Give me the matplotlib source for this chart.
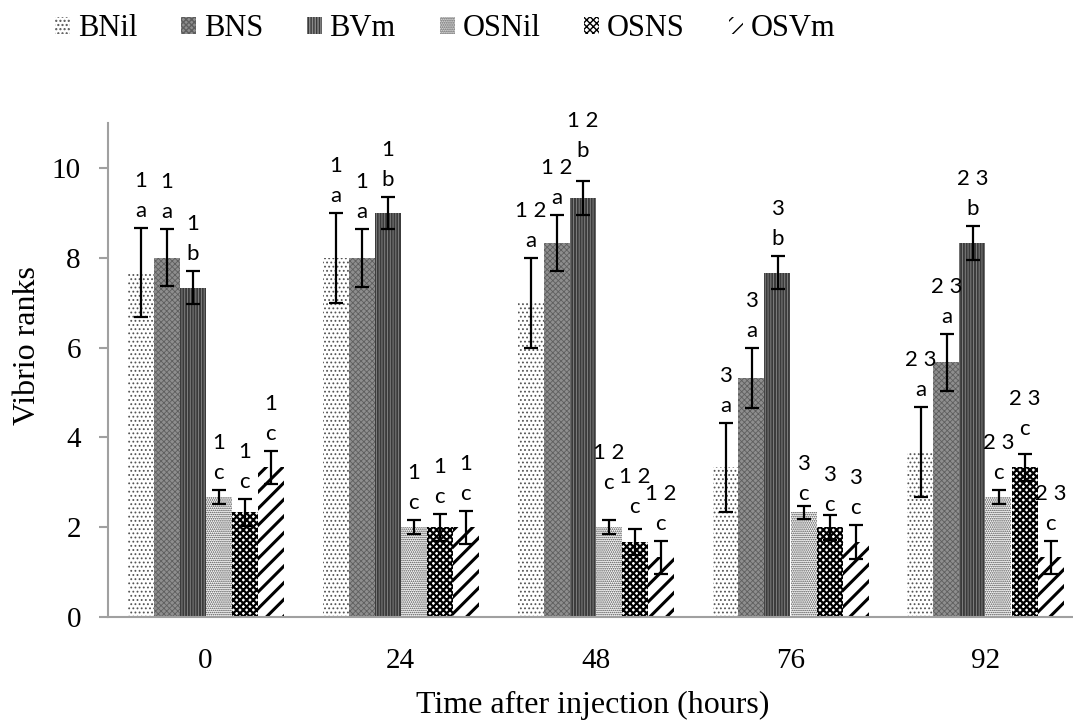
import numpy as np
import matplotlib
matplotlib.use("Agg")
import matplotlib.pyplot as plt

# data
hours = ["0", "24", "48", "76", "92"]
series = ["BNil", "BNS", "BVm", "OSNil", "OSNS", "OSVm"]

bnil = [7.67, 8.0, 7.0, 3.33, 3.67]
bns = [8.0, 8.0, 8.33, 5.33, 5.67]
bvm = [7.33, 9.0, 9.33, 7.67, 8.33]
osnil = [2.67, 2.0, 2.0, 2.33, 2.67]
osns = [2.33, 2.0, 1.67, 2.0, 3.33]
osvm = [3.33, 2.0, 1.33, 1.67, 1.33]

bnil_err = [1.0, 1.0, 1.0, 1.0, 1.0]
bns_err = [0.63, 0.65, 0.63, 0.67, 0.63]
bvm_err = [0.37, 0.35, 0.37, 0.37, 0.37]
osnil_err = [0.15, 0.15, 0.15, 0.15, 0.15]
osns_err = [0.3, 0.3, 0.3, 0.28, 0.3]
osvm_err = [0.37, 0.37, 0.37, 0.37, 0.37]

# significance labels: number group (time) and letter (treatment)
time_grp = ["1", "1", "1 2", "3", "2 3"]
letters = ["a", "a", "b", "c", "c", "c"]

values = [bnil, bns, bvm, osnil, osns, osvm]
errors = [bnil_err, bns_err, bvm_err, osnil_err, osns_err, osvm_err]

# look of each series: facecolor, hatch colour, hatch, hatch linewidth
styles = [
    ("white", "#555555", "....", 0.8),
    ("#8e8e8e", "#5e5e5e", "xxxxxx", 0.6),
    ("#3a3a3a", "#8a8a8a", "||||||", 0.6),
    ("white", "#444444", "........", 0.8),
    ("white", "black", "xxxxx", 1.6),
    ("white", "black", "//", 2.2),
]

# extra lift (px) for a few hand-placed labels [group][series]
lift = np.zeros((5, 6))
lift[2, 2] = 13
lift[2, 3] = 20
lift[2, 4] = 5
lift[3, 3] = -5
lift[3, 4] = -7
lift[4, 4] = 8

fig = plt.figure(figsize=(10.73, 7.24), dpi=100)
ax = fig.add_axes([108/1073, 107/724, 975/1073, 494/724])

x = np.arange(len(hours))
w = 0.8/6
for j, name in enumerate(series):
    fc, hc, hatch, hlw = styles[j]
    pos = x + (j - 2.5)*w
    with plt.rc_context({"hatch.linewidth": hlw}):
        ax.bar(pos, values[j], w, facecolor=fc, edgecolor=hc, linewidth=0,
               hatch=hatch, label=name, zorder=2)
    ax.errorbar(pos, values[j], yerr=errors[j], fmt="none", ecolor="black",
                elinewidth=1.6, capsize=4.8, capthick=1.6, zorder=3)
    for i in range(len(hours)):
        top = values[j][i] + errors[j][i]
        ax.annotate(letters[j], (pos[i], top), xytext=(0, (17+lift[i, j])*0.72),
                    textcoords="offset points", ha="center", va="center",
                    fontsize=16, family="Lato")
        ax.annotate(time_grp[i], (pos[i], top), xytext=(0, (47+lift[i, j])*0.72),
                    textcoords="offset points", ha="center", va="center",
                    fontsize=16, family="Lato")

ax.set_xlim(-0.5, 4.5)
ax.set_ylim(0, 11)
ax.set_yticks([0, 2, 4, 6, 8, 10])
ax.set_xticks(x)
ax.set_xticklabels(hours)
for s in ["top", "right"]:
    ax.spines[s].set_visible(False)
for s in ["left", "bottom"]:
    ax.spines[s].set_color("#a0a0a0")
    ax.spines[s].set_linewidth(1.5)
ax.tick_params(axis="x", length=0, pad=22, labelsize=21)
ax.tick_params(axis="y", length=6.5, width=1.5, color="#a0a0a0", pad=13, labelsize=21)
for t in ax.get_xticklabels() + ax.get_yticklabels():
    t.set_family("Liberation Serif")

ax.set_xlabel("Time after injection (hours)", family="Liberation Serif", fontsize=23)
ax.set_ylabel("Vibrio ranks", family="Liberation Serif", fontsize=23)
ax.xaxis.set_label_coords(0.497, -0.15)
ax.yaxis.set_label_coords(-0.068, 0.55)

fig.legend(loc="upper left", bbox_to_anchor=(0.026, 1.018), ncol=6, frameon=False,
           prop={"family": "Liberation Serif", "size": 22},
           handlelength=0.48, handleheight=0.48, handletextpad=0.25,
           columnspacing=1.45)

fig.savefig("out.png", dpi=100)
